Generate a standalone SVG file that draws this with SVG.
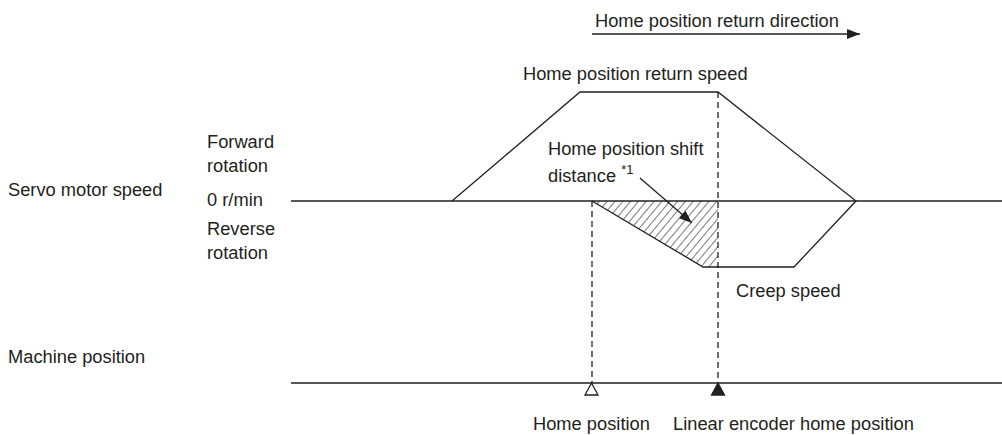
<svg xmlns="http://www.w3.org/2000/svg" width="1002" height="435" viewBox="0 0 1002 435">
<style>
text{font-family:"Liberation Sans",Arial,sans-serif;font-size:18.3px;fill:#231f20}
.ln{stroke:#231f20;stroke-width:1.3;fill:none}
.ds{stroke:#231f20;stroke-width:1.3;fill:none;stroke-dasharray:6 4}
.sup{font-size:13px}
</style>
<defs>
<pattern id="hatch" patternUnits="userSpaceOnUse" width="6" height="6" patternTransform="rotate(40)">
<line x1="0" y1="0" x2="0" y2="6" stroke="#231f20" stroke-width="1.2"/>
</pattern>
<clipPath id="hc"><polygon points="592,201 718,201 718,267 703,267"/></clipPath>
<marker id="ah" viewBox="0 0 13 10" refX="13" refY="5" markerWidth="13" markerHeight="10" markerUnits="userSpaceOnUse" orient="auto">
<path d="M0,0 L13,5 L0,10 Z" fill="#231f20"/>
</marker>
</defs>
<g id="labels">
<text x="595" y="27">Home position return direction</text>
<text x="523" y="80">Home position return speed</text>
<text x="8" y="196">Servo motor speed</text>
<text x="207" y="148">Forward</text>
<text x="207" y="172">rotation</text>
<text x="207" y="206">0 r/min</text>
<text x="207" y="235">Reverse</text>
<text x="207" y="259">rotation</text>
<text x="548" y="155">Home position shift</text>
<text x="548" y="182">distance <tspan class="sup" dy="-8">*1</tspan></text>
<text x="736" y="297">Creep speed</text>
<text x="8" y="363">Machine position</text>
<text x="533" y="430">Home position</text>
<text x="673" y="430">Linear encoder home position</text>
</g>
<g id="axes">
<line class="ln" x1="291" y1="201" x2="1002" y2="201"/>
<line class="ln" x1="291" y1="383" x2="1002" y2="383"/>
</g>
<g id="speed-profile">
<rect x="580" y="195" width="150" height="80" fill="url(#hatch)" clip-path="url(#hc)"/>
<polyline class="ln" points="452,201 580,92 718,92 856,201 794,267 703,267 592,201"/>
</g>
<g id="connectors">
<line class="ln" x1="592" y1="34" x2="860" y2="34" marker-end="url(#ah)"/>
<line class="ln" x1="640" y1="178" x2="692" y2="223" marker-end="url(#ah)"/>
<line class="ds" x1="592" y1="201" x2="592" y2="383"/>
<line class="ds" x1="718" y1="92" x2="718" y2="383"/>
</g>
<g id="home-marker">
<polygon points="591.5,383 585,395 598,395" fill="#fff" stroke="#231f20" stroke-width="1.3"/>
</g>
<g id="encoder-marker">
<polygon points="718,383 711.5,395 724.5,395" fill="#231f20" stroke="#231f20" stroke-width="1.3"/>
</g>
</svg>
